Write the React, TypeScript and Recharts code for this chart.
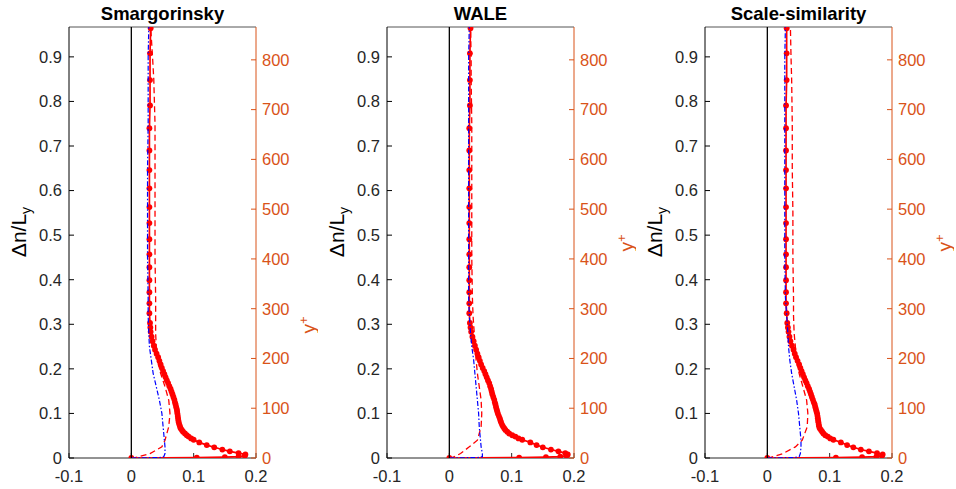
import React from 'react'
import { ScatterChart, Scatter, XAxis, YAxis, Label } from 'recharts'

const FONT = '"Liberation Sans", Arial, Helvetica, sans-serif'
const ORANGE = '#D95319'

// wall-normal grid of the LES profile (Δn/L_y)
const ETA = [
  0, 0.001, 0.002, 0.003, 0.005, 0.008, 0.011, 0.015, 0.019, 0.024, 0.029, 0.035,
  0.041, 0.044, 0.048, 0.051, 0.055, 0.059, 0.063, 0.067, 0.071, 0.075, 0.080, 0.084, 0.089, 0.094, 0.099,
  0.104, 0.109, 0.114, 0.120, 0.125, 0.131, 0.137, 0.143, 0.149, 0.155, 0.161, 0.168, 0.174, 0.181, 0.188,
  0.195, 0.202, 0.210, 0.218, 0.226, 0.234, 0.243, 0.252, 0.262, 0.272, 0.283, 0.293, 0.303,
  0.325, 0.347, 0.372, 0.399, 0.428, 0.457, 0.491, 0.527, 0.563, 0.605, 0.646, 0.690, 0.740, 0.791, 0.848, 0.908, 0.964,
]

const SMAG_LES = [
  0, 0.105, 0.150, 0.172, 0.182, 0.183, 0.172, 0.158, 0.146, 0.133, 0.121, 0.109,
  0.100, 0.096, 0.092, 0.089, 0.086, 0.083, 0.081, 0.079, 0.078, 0.077, 0.076, 0.0755, 0.075, 0.0745, 0.074,
  0.0735, 0.073, 0.072, 0.071, 0.070, 0.069, 0.0675, 0.066, 0.0645, 0.063, 0.061, 0.059, 0.057, 0.055, 0.053,
  0.051, 0.049, 0.047, 0.045, 0.043, 0.0405, 0.038, 0.036, 0.034, 0.0325, 0.031, 0.0305, 0.030,
  0.029, 0.029, 0.029, 0.029, 0.029, 0.029, 0.029, 0.029, 0.029, 0.029, 0.029, 0.029, 0.029, 0.030, 0.030, 0.030, 0.031,
]
const WALE_LES = [
  0, 0.112, 0.155, 0.178, 0.188, 0.190, 0.186, 0.175, 0.163, 0.150, 0.140, 0.130,
  0.117, 0.111, 0.106, 0.101, 0.096, 0.093, 0.090, 0.088, 0.086, 0.0845, 0.083, 0.082, 0.081, 0.0795, 0.078,
  0.077, 0.076, 0.075, 0.074, 0.073, 0.072, 0.0705, 0.069, 0.068, 0.067, 0.0655, 0.064, 0.062, 0.060, 0.058,
  0.056, 0.0535, 0.051, 0.049, 0.047, 0.045, 0.043, 0.041, 0.039, 0.037, 0.035, 0.034, 0.033,
  0.032, 0.032, 0.032, 0.032, 0.032, 0.032, 0.032, 0.032, 0.032, 0.032, 0.032, 0.032, 0.032, 0.033, 0.033, 0.033, 0.034,
]
const SS_LES = [
  0, 0.110, 0.152, 0.175, 0.184, 0.185, 0.176, 0.163, 0.150, 0.138, 0.128, 0.118,
  0.106, 0.101, 0.097, 0.093, 0.090, 0.088, 0.086, 0.084, 0.083, 0.0825, 0.082, 0.0815, 0.081, 0.0805, 0.080,
  0.079, 0.078, 0.077, 0.076, 0.0745, 0.073, 0.0715, 0.070, 0.0685, 0.067, 0.065, 0.063, 0.061, 0.059, 0.057,
  0.055, 0.053, 0.051, 0.0485, 0.046, 0.044, 0.042, 0.0395, 0.037, 0.0355, 0.034, 0.033, 0.032,
  0.031, 0.030, 0.030, 0.030, 0.030, 0.030, 0.030, 0.030, 0.030, 0.030, 0.030, 0.030, 0.030, 0.030, 0.031, 0.031, 0.031,
]

// grid for the other profiles
const PROFILE_Y = [0, 0.0005, 0.001, 0.003, 0.01, 0.025, 0.04, 0.07, 0.10, 0.13, 0.16, 0.19, 0.22, 0.25, 0.28, 0.32, 0.36, 0.45, 0.55, 0.65, 0.75, 0.85, 0.90, 0.967]

const SMAG_BLUE = [0, 0.02, 0.045, 0.052, 0.054, 0.054, 0.053, 0.051, 0.049, 0.045, 0.040, 0.035, 0.032, 0.029, 0.028, 0.027, 0.027, 0.026, 0.026, 0.026, 0.027, 0.027, 0.027, 0.028]
const SMAG_DASH = [0, 0.003, 0.006, 0.012, 0.030, 0.049, 0.054, 0.060, 0.062, 0.060, 0.054, 0.047, 0.042, 0.040, 0.039, 0.039, 0.039, 0.038, 0.038, 0.038, 0.038, 0.036, 0.034, 0.031]
const WALE_BLUE = [0, 0.02, 0.045, 0.053, 0.053, 0.051, 0.050, 0.048, 0.047, 0.045, 0.043, 0.041, 0.039, 0.036, 0.034, 0.032, 0.031, 0.031, 0.031, 0.031, 0.031, 0.031, 0.031, 0.032]
const WALE_DASH = [0, 0.002, 0.004, 0.008, 0.018, 0.032, 0.045, 0.051, 0.052, 0.051, 0.048, 0.045, 0.043, 0.041, 0.040, 0.038, 0.037, 0.036, 0.036, 0.036, 0.036, 0.035, 0.035, 0.034]
const SS_BLUE = [0, 0.02, 0.044, 0.051, 0.053, 0.054, 0.054, 0.052, 0.050, 0.047, 0.043, 0.039, 0.036, 0.034, 0.033, 0.031, 0.029, 0.028, 0.028, 0.028, 0.028, 0.028, 0.028, 0.029]
const SS_DASH = [0, 0.002, 0.004, 0.010, 0.025, 0.045, 0.056, 0.064, 0.065, 0.063, 0.057, 0.051, 0.047, 0.045, 0.043, 0.042, 0.042, 0.041, 0.041, 0.040, 0.040, 0.039, 0.038, 0.037]
const BLACK = [0, 0, 0, 0, 0, 0, 0, 0, 0, 0, 0, 0, 0, 0, 0, 0, 0, 0, 0, 0, 0, 0, 0, 0]

const X_TICKS = [-0.1, 0, 0.1, 0.2]
const LEFT_TICKS = [0, 0.1, 0.2, 0.3, 0.4, 0.5, 0.6, 0.7, 0.8, 0.9]
const RIGHT_TICKS = [0, 100, 200, 300, 400, 500, 600, 700, 800]

const pts = (xs: number[], ys: number[]) => xs.map((x, i) => ({ x, y: ys[i] }))

const noDot = () => <g />
const redDot = (p: any) => <circle cx={p.cx} cy={p.cy} r={2.9} fill="#ff0000" />

const Panel = ({ title, les, blue, dash, yPlusY }: any) => (
  <ScatterChart width={318} height={489} margin={{ top: 0, right: 0, bottom: 0, left: 0 }} style={{ overflow: 'visible' }}>
    <XAxis type="number" dataKey="x" domain={[-0.1, 0.2]} ticks={X_TICKS} allowDataOverflow
      height={31} tickSize={-5} tickMargin={17} stroke="#262626" interval={0}
      tick={{ fontSize: 16.5, fill: '#262626', fontFamily: FONT }} />
    <XAxis xAxisId="top" orientation="top" type="number" dataKey="x" domain={[-0.1, 0.2]} ticks={X_TICKS}
      allowDataOverflow height={27} tickSize={-5} tick={false} stroke="#555">
      <Label content={() => (
        <text x={162.5} y={20} textAnchor="middle" fontFamily={FONT} fontWeight="bold" fontSize={18.5} fill="#000">{title}</text>
      )} />
    </XAxis>
    <YAxis yAxisId="left" type="number" dataKey="y" domain={[0, 0.967]} ticks={LEFT_TICKS} allowDataOverflow
      width={69} tickSize={-5} tickMargin={12} stroke="#000" interval={0}
      tick={{ fontSize: 16.5, fill: '#262626', fontFamily: FONT }}>
      <Label content={() => (
        <text x={26} y={232} transform="rotate(-90 26 232)" textAnchor="middle" fontFamily={FONT} fontSize={21} fill="#000">
          Δn/L<tspan dy={5} fontSize={14}>y</tspan>
        </text>
      )} />
    </YAxis>
    <YAxis yAxisId="right" orientation="right" type="number" domain={[0, 866]} ticks={RIGHT_TICKS} allowDataOverflow
      width={62} tickSize={-5} tickMargin={11} stroke={ORANGE} interval={0}
      tick={{ fontSize: 16.5, fill: ORANGE, fontFamily: FONT }}>
      <Label content={() => (
        <text x={315} y={yPlusY} transform={`rotate(-90 315 ${yPlusY})`} textAnchor="middle" fontFamily={FONT} fontSize={19} fill={ORANGE}>
          y<tspan dy={-7} fontSize={13}>+</tspan>
        </text>
      )} />
    </YAxis>
    <Scatter yAxisId="right" data={[]} shape={noDot} isAnimationActive={false} />
    <Scatter yAxisId="left" data={pts(les, ETA)} shape={redDot} line={{ stroke: '#ff0000', strokeWidth: 1.7 }}
      lineJointType="linear" isAnimationActive={false} />
    <Scatter yAxisId="left" data={pts(dash, PROFILE_Y)} shape={noDot}
      line={{ stroke: '#ff0000', strokeWidth: 1.3, strokeDasharray: '6 3.5' }} lineJointType="linear" isAnimationActive={false} />
    <Scatter yAxisId="left" data={pts(blue, PROFILE_Y)} shape={noDot}
      line={{ stroke: '#0000ff', strokeWidth: 1.2, strokeDasharray: '5 2 1.5 2' }} lineJointType="linear" isAnimationActive={false} />
    <Scatter yAxisId="left" data={pts(BLACK, PROFILE_Y)} shape={noDot}
      line={{ stroke: '#000', strokeWidth: 1.3 }} lineJointType="linear" isAnimationActive={false} />
  </ScatterChart>
)

export default function App() {
  return (
    <div style={{ position: 'absolute', left: 0, top: 0, width: 956, height: 489, background: '#fff', display: 'flex' }}>
      <Panel title="Smargorinsky" les={SMAG_LES} blue={SMAG_BLUE} dash={SMAG_DASH} yPlusY={325} />
      <Panel title="WALE" les={WALE_LES} blue={WALE_BLUE} dash={WALE_DASH} yPlusY={243} />
      <Panel title="Scale-similarity" les={SS_LES} blue={SS_BLUE} dash={SS_DASH} yPlusY={243} />
    </div>
  )
}
